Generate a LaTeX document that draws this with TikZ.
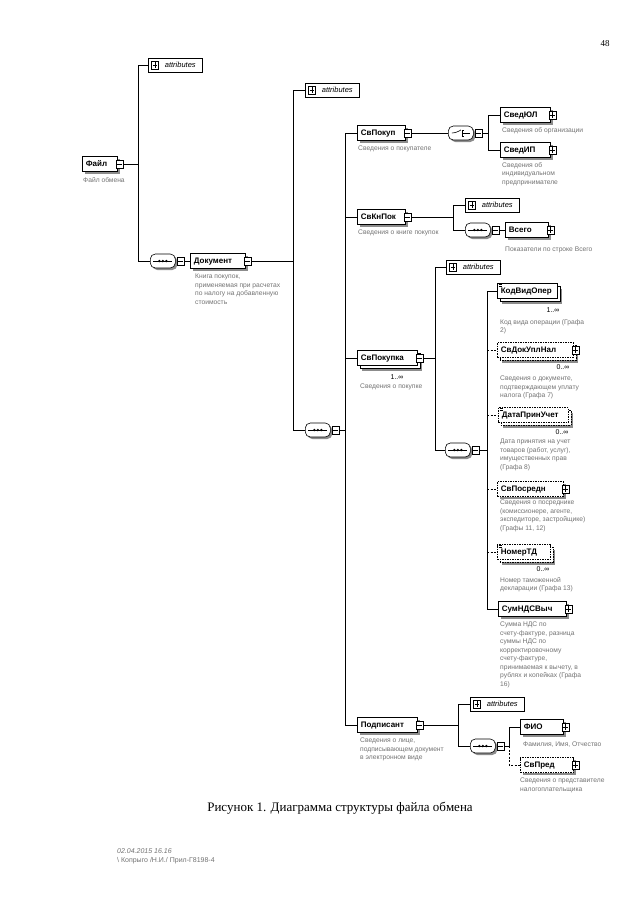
\documentclass[tikz,border=0pt]{standalone}
\usepackage{fontspec}
\setmainfont{Liberation Sans}
\newfontfamily\serifcyr{Liberation Serif}
\usetikzlibrary{shadows,calc}

\tikzset{
  conn/.style={line width=0.7pt},
  optconn/.style={line width=0.7pt, dash pattern=on 2pt off 1.5pt},
  elembase/.style={draw=black, line width=0.7pt, fill=white, font=\bfseries\fontsize{8}{9}\selectfont, minimum height=15pt, text height=6pt, text depth=1.5pt, inner xsep=3.5pt, inner ysep=0pt, anchor=west, align=left},
  elem/.style={elembase, drop shadow={shadow xshift=2.5pt,shadow yshift=-2.5pt,fill=black!45,opacity=1}},
  elemmulti/.style={elembase, drop shadow={shadow xshift=5pt,shadow yshift=-5pt,fill=black!45,opacity=1}, copy shadow={shadow xshift=2.5pt,shadow yshift=-2.5pt,draw=black,fill=white}},
  optbox/.style={dash pattern=on 1.5pt off 1pt},
  sq/.style={draw=black, line width=0.6pt, fill=white, minimum width=7pt, minimum height=8pt, inner sep=0pt, anchor=west},
  minus/.style={sq, path picture={\draw[line width=0.5pt] ([xshift=1.3pt]path picture bounding box.west) -- ([xshift=-1.3pt]path picture bounding box.east);}},
  plus/.style={sq, path picture={\draw[line width=0.5pt] ([xshift=1.3pt]path picture bounding box.west) -- ([xshift=-1.3pt]path picture bounding box.east) ([yshift=1.3pt]path picture bounding box.south) -- ([yshift=-1.3pt]path picture bounding box.north);}},
  attr/.style={draw=black, line width=0.6pt, fill=white, font=\itshape\fontsize{7.5}{9}\selectfont, minimum height=14pt, minimum width=54pt, inner xsep=3pt, inner ysep=0pt, anchor=west},
  comp/.style={draw=black, line width=0.6pt, fill=white, rounded corners=5pt, minimum width=25pt, minimum height=14pt, inner sep=0pt, anchor=west, drop shadow={shadow xshift=2pt,shadow yshift=-2pt,fill=black!45,opacity=1}},
  seq/.style={comp, path picture={
     \draw[black, line width=0.6pt] ([xshift=3pt]path picture bounding box.west) -- ([xshift=-3pt]path picture bounding box.east);
     \foreach \d in {-3.5,0,3.5} {\fill[black] ([xshift=\d pt]path picture bounding box.center) circle (1.3pt);}}},
  choice/.style={comp, path picture={
     \coordinate (cc) at (path picture bounding box.center);
     \draw[black, line width=0.6pt] ([xshift=-9pt]cc) -- ([xshift=-4pt]cc) -- ([shift={(0pt,3pt)}]cc);
     \draw[black, line width=0.6pt] ([shift={(1pt,-3.5pt)}]cc) -- ([shift={(1pt,3.5pt)}]cc);
     \foreach \d in {-3,0,3} {\draw[black, line width=0.6pt] ([shift={(1pt,\d pt)}]cc) -- ([shift={(3.5pt,\d pt)}]cc);}
     \draw[black, line width=0.6pt] ([xshift=3.5pt]cc) -- ([xshift=9pt]cc);}},
  desc/.style={anchor=north west, font=\fontsize{6.7}{8.5}\selectfont, text=black!55, align=left, inner sep=0pt},
  occ/.style={font=\fontsize{7}{8}\selectfont, inner sep=0pt},
}
\newcommand\smark[1]{\draw[line width=0.45pt] ([shift={(1.5pt,-1.5pt)}]#1.north west) -- ++(3pt,0pt) ([shift={(1.5pt,-3pt)}]#1.north west) -- ++(3pt,0pt);}

\begin{document}
\begin{tikzpicture}[x=1pt,y=-1pt]
\fill[white] (0,0) rectangle (640,905);
\useasboundingbox (0,0) rectangle (640,905);

\node[font=\serifcyr\fontsize{9}{10}\selectfont] (pg) at (605,44) {48};

% ---------- Файл ----------
\node[elem, text width=28pt] (F) at (82,164) {Файл};
\node[minus] (Fs) at ([xshift=-2pt]F.east) {};
\node[desc] (Fd) at (83,177) {Файл обмена};

\node[attr] (A1) at (148,65) {\hspace{10pt}attributes};
\node[plus] (A1p) at ([xshift=3pt]A1.west) {};

\node[seq] (S1) at (150,261) {};
\node[minus] (S1s) at ([xshift=1pt]S1.east) {};

% ---------- Документ ----------
\node[elem, text width=48pt] (D) at (190,261) {Документ};
\node[minus] (Ds) at ([xshift=-2pt]D.east) {};
\node[desc] (Dd) at (195,274) {Книга покупок,\\применяемая при расчетах\\по налогу на добавленную\\стоимость};

\node[attr] (A2) at (305,90) {\hspace{10pt}attributes};
\node[plus] (A2p) at ([xshift=3pt]A2.west) {};

\node[seq] (S2) at (305,430) {};
\node[minus] (S2s) at ([xshift=1pt]S2.east) {};

% ---------- children of Документ ----------
\node[elem, text width=41pt] (P1) at (357,133) {СвПокуп};
\node[minus] (P1s) at ([xshift=-2pt]P1.east) {};
\node[desc] (P1d) at (358,146) {Сведения о покупателе};

\node[elem, text width=41pt] (P2) at (357,217) {СвКнПок};
\node[minus] (P2s) at ([xshift=-2pt]P2.east) {};
\node[desc] (P2d) at (358,230) {Сведения о книге покупок};

\node[elemmulti, text width=53pt] (P3) at (357,358) {СвПокупка};
\node[minus] (P3s) at ([xshift=-2pt]P3.east) {};
\node[occ] (P3o) at (397,377) {1..∞};
\node[desc] (P3d) at (360,384) {Сведения о покупке};

\node[elem, text width=53pt] (P4) at (357,725) {Подписант};
\node[minus] (P4s) at ([xshift=-2pt]P4.east) {};
\node[desc] (P4d) at (360,738) {Сведения о лице,\\подписывающем документ\\в электронном виде};

% ---------- СвПокуп ----------
\node[choice] (C1) at (448,133) {};
\node[minus] (C1s) at ([xshift=1pt]C1.east) {};
\node[elem, text width=43pt] (J1) at (500,115) {СведЮЛ};
\node[plus] (J1p) at ([xshift=-2pt]J1.east) {};
\node[desc] (J1d) at (502,127) {Сведения об организации};
\node[elem, text width=43pt] (J2) at (500,150) {СведИП};
\node[plus] (J2p) at ([xshift=-2pt]J2.east) {};
\node[desc] (J2d) at (502,162) {Сведения об\\индивидуальном\\предпринимателе};

% ---------- СвКнПок ----------
\node[attr] (A3) at (465,205) {\hspace{10pt}attributes};
\node[plus] (A3p) at ([xshift=3pt]A3.west) {};
\node[seq] (S3) at (465,230) {};
\node[minus] (S3s) at ([xshift=1pt]S3.east) {};
\node[elem, text width=36pt] (V) at (505,230) {Всего};
\node[plus] (Vp) at ([xshift=-2pt]V.east) {};
\node[desc] (Vd) at (505,247) {Показатели по строке Всего};

% ---------- СвПокупка ----------
\node[attr] (A4) at (446,267) {\hspace{10pt}attributes};
\node[plus] (A4p) at ([xshift=3pt]A4.west) {};
\node[seq] (S4) at (445,450) {};
\node[minus] (S4s) at ([xshift=1pt]S4.east) {};

\node[elemmulti, text width=53pt] (K1) at (497,291) {КодВидОпер};
\smark{K1}
\node[occ] (K1o) at (553,310) {1..∞};
\node[desc] (K1d) at (500,319) {Код вида операции (Графа\\2)};

\node[elemmulti, optbox, text width=69pt] (K2) at (497,350) {СвДокУплНал};
\node[plus] (K2p) at ([xshift=-2pt]K2.east) {};
\node[occ] (K2o) at (563,367) {0..∞};
\node[desc] (K2d) at (500,376) {Сведения о документе,\\подтверждающем уплату\\налога (Графа 7)};

\node[elemmulti, optbox, text width=63pt] (K3) at (498,415) {ДатаПринУчет};
\smark{K3}
\node[occ] (K3o) at (562,432) {0..∞};
\node[desc] (K3d) at (500,439) {Дата принятия на учет\\товаров (работ, услуг),\\имущественных прав\\(Графа 8)};

\node[elem, optbox, text width=59pt] (K4) at (497,489) {СвПосредн};
\node[plus] (K4p) at ([xshift=-2pt]K4.east) {};
\node[desc] (K4d) at (500,500) {Сведения о посреднике\\(комиссионере, агенте,\\экспедиторе, застройщике)\\(Графы 11, 12)};

\node[elemmulti, optbox, text width=46pt] (K5) at (497,552) {НомерТД};
\smark{K5}
\node[occ] (K5o) at (543,569) {0..∞};
\node[desc] (K5d) at (500,577) {Номер таможенной\\декларации (Графа 13)};

\node[elem, text width=61pt] (K6) at (498,609) {СумНДСВыч};
\node[plus] (K6p) at ([xshift=-2pt]K6.east) {};
\node[desc] (K6d) at (500,622) {Сумма НДС по\\счету-фактуре, разница\\суммы НДС по\\корректировочному\\счету-фактуре,\\принимаемая к вычету, в\\рублях и копейках (Графа\\16)};

% ---------- Подписант ----------
\node[attr] (A5) at (470,704) {\hspace{10pt}attributes};
\node[plus] (A5p) at ([xshift=3pt]A5.west) {};
\node[seq] (S5) at (470,746) {};
\node[minus] (S5s) at ([xshift=1pt]S5.east) {};
\node[elem, text width=36pt] (G1) at (520,727) {ФИО};
\node[plus] (G1p) at ([xshift=-2pt]G1.east) {};
\node[desc] (G1d) at (523,742) {Фамилия, Имя, Отчество};
\node[elem, optbox, text width=46pt] (G2) at (520,765) {СвПред};
\node[plus] (G2p) at ([xshift=-2pt]G2.east) {};
\node[desc] (G2d) at (520,778) {Сведения о представителе\\налогоплательщика};

% ---------- connectors ----------
\coordinate (bF) at (138,164);
\draw[conn] (Fs.east) -- (bF);
\draw[conn] (bF|-A1.west) -- (bF|-S1.west);
\draw[conn] (bF|-A1.west) -- (A1.west);
\draw[conn] (bF|-S1.west) -- (S1.west);
\draw[conn] (S1s.east) -- (D.west);

\coordinate (bD) at (293,261);
\draw[conn] (Ds.east) -- (bD);
\draw[conn] (bD|-A2.west) -- (bD|-S2.west);
\draw[conn] (bD|-A2.west) -- (A2.west);
\draw[conn] (bD|-S2.west) -- (S2.west);

\coordinate (bS2) at (345,430);
\draw[conn] (S2s.east) -- (bS2);
\draw[conn] (bS2|-P1.west) -- (bS2|-P4.west);
\draw[conn] (bS2|-P1.west) -- (P1.west);
\draw[conn] (bS2|-P2.west) -- (P2.west);
\draw[conn] (bS2|-P3.west) -- (P3.west);
\draw[conn] (bS2|-P4.west) -- (P4.west);

\draw[conn] (P1s.east) -- (C1.west);
\coordinate (bC1) at (488,133);
\draw[conn] (C1s.east) -- (bC1);
\draw[conn] (bC1|-J1.west) -- (bC1|-J2.west);
\draw[conn] (bC1|-J1.west) -- (J1.west);
\draw[conn] (bC1|-J2.west) -- (J2.west);

\coordinate (bP2) at (453,217);
\draw[conn] (P2s.east) -- (bP2);
\draw[conn] (bP2|-A3.west) -- (bP2|-S3.west);
\draw[conn] (bP2|-A3.west) -- (A3.west);
\draw[conn] (bP2|-S3.west) -- (S3.west);
\draw[conn] (S3s.east) -- (V.west);

\coordinate (bP3) at (435,358);
\draw[conn] (P3s.east) -- (bP3);
\draw[conn] (bP3|-A4.west) -- (bP3|-S4.west);
\draw[conn] (bP3|-A4.west) -- (A4.west);
\draw[conn] (bP3|-S4.west) -- (S4.west);

\coordinate (bS4) at (487,450);
\draw[conn] (S4s.east) -- (bS4);
\draw[conn] (bS4|-K1.west) -- (bS4|-K6.west);
\draw[conn] (bS4|-K1.west) -- (K1.west);
\draw[optconn] (bS4|-K2.west) -- (K2.west);
\draw[optconn] (bS4|-K3.west) -- (K3.west);
\draw[optconn] (bS4|-K4.west) -- (K4.west);
\draw[optconn] (bS4|-K5.west) -- (K5.west);
\draw[conn] (bS4|-K6.west) -- (K6.west);

\coordinate (bP4) at (458,725);
\draw[conn] (P4s.east) -- (bP4);
\draw[conn] (bP4|-A5.west) -- (bP4|-S5.west);
\draw[conn] (bP4|-A5.west) -- (A5.west);
\draw[conn] (bP4|-S5.west) -- (S5.west);

\coordinate (bS5) at (509,746);
\draw[conn] (S5s.east) -- (bS5);
\draw[conn] (bS5|-G1.west) -- (bS5);
\draw[conn] (bS5|-G1.west) -- (G1.west);
\draw[optconn] (bS5) -- (bS5|-G2.west) -- (G2.west);

% ---------- caption and footer ----------
\node[font=\serifcyr\fontsize{13}{15}\selectfont] (cap) at (340,808) {Рисунок 1. Диаграмма структуры файла обмена};
\node[anchor=west, inner sep=0pt, font=\itshape\fontsize{7}{8}\selectfont, text=black!55] (f1) at (117,851) {02.04.2015 16.16};
\node[anchor=west, inner sep=0pt, font=\fontsize{7}{8}\selectfont, text=black!55] (f2) at (117,861) {\textbackslash\ Копрыго /Н.И./ Прил-Г8198-4};
\end{tikzpicture}
\end{document}
